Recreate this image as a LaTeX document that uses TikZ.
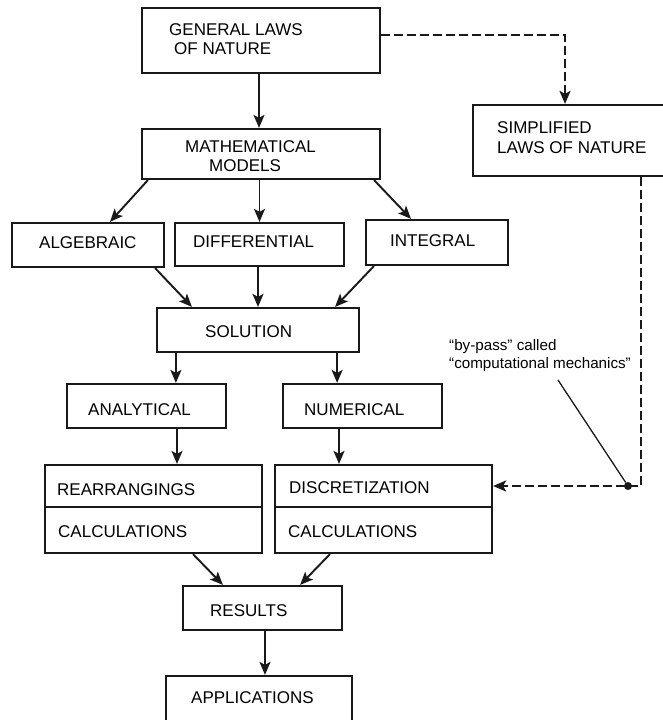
\documentclass[tikz,border=0pt]{standalone}
\usepackage{fontspec}
\setmainfont{Liberation Sans}
\usetikzlibrary{arrows.meta}
\tikzset{
  box/.style={draw=black!90, line width=2.2pt, inner sep=0pt, rectangle},
  txt/.style={inner sep=0pt, anchor=base west, font=\fontsize{17}{20}\selectfont},
  note/.style={inner sep=0pt, anchor=base west, font=\fontsize{15.2}{18}\selectfont},
  arr/.style={line width=1.9pt, draw=black!90, -{Stealth[length=13pt,width=11pt,inset=3pt]}},
  darr/.style={arr, dash pattern=on 9pt off 4pt, line width=2.4pt}
}
\begin{document}
\begin{tikzpicture}[x=1pt,y=-1pt]
\useasboundingbox (0,0) rectangle (663,720);
% boxes
\node[box, minimum width=238pt, minimum height=65pt] (gen) at (261,40.5) {};
\node[box, minimum width=238pt, minimum height=50pt] (math) at (261,154) {};
\node[box, minimum width=217pt, minimum height=71pt] (simp) at (581.5,140.5) {};
\node[box, minimum width=152pt, minimum height=44pt] (alg) at (88,245) {};
\node[box, minimum width=169pt, minimum height=43pt] (diff) at (259.5,244.5) {};
\node[box, minimum width=142pt, minimum height=45pt] (integ) at (437,242.5) {};
\node[box, minimum width=202pt, minimum height=44pt] (sol) at (258,330) {};
\node[box, minimum width=159pt, minimum height=44pt] (ana) at (146.5,406) {};
\node[box, minimum width=159pt, minimum height=44pt] (num) at (362.5,406) {};
\node[box, minimum width=217pt, minimum height=42pt] (reaL) at (153.5,486) {};
\node[box, minimum width=217pt, minimum height=46pt] (calL) at (153.5,530) {};
\node[box, minimum width=217pt, minimum height=42pt] (disR) at (383.5,486) {};
\node[box, minimum width=217pt, minimum height=46pt] (calR) at (383.5,530) {};
\node[box, minimum width=159pt, minimum height=44pt] (res) at (262.5,608) {};
\node[box, minimum width=186pt, minimum height=64pt] (app) at (259,708) {};
% texts
\node[txt] (t1) at (169,35) {GENERAL LAWS};
\node[txt] (t2) at (174,54) {OF NATURE};
\node[txt] (t3) at (185,152) {MATHEMATICAL};
\node[txt] (t4) at (209,171) {MODELS};
\node[txt] (t5) at (497,133) {SIMPLIFIED};
\node[txt] (t6) at (497,153) {LAWS OF NATURE};
\node[txt] (t7) at (39,248) {ALGEBRAIC};
\node[txt] (t8) at (193,247) {DIFFERENTIAL};
\node[txt] (t9) at (390,246) {INTEGRAL};
\node[txt] (t10) at (205,337) {SOLUTION};
\node[txt] (t11) at (88,415) {ANALYTICAL};
\node[txt] (t12) at (304,415) {NUMERICAL};
\node[txt] (t13) at (57,495) {REARRANGINGS};
\node[txt] (t14) at (58,537) {CALCULATIONS};
\node[txt] (t15) at (289,493) {DISCRETIZATION};
\node[txt] (t16) at (288,537) {CALCULATIONS};
\node[txt] (t17) at (210,616) {RESULTS};
\node[txt] (t18) at (191,703) {APPLICATIONS};
\node[note] (n1) at (449,350) {“by-pass” called};
\node[note] (n2) at (449,368) {“computational mechanics”};
% arrows
\draw[arr] ([xshift=-2pt]gen.south) -- ([xshift=-2pt]math.north);
\draw[arr] ([xshift=7pt]math.south west) -- ([xshift=22pt]alg.north);
\draw[arr] (diff.north |- math.south) -- (diff.north);
\draw[arr] ([xshift=-7pt]math.south east) -- ([xshift=-26pt]integ.north);
\draw[arr] ([xshift=-10pt]alg.south east) -- ([xshift=36pt]sol.north west);
\draw[arr] (sol.north |- diff.south) -- (sol.north);
\draw[arr] ([xshift=9pt]integ.south west) -- ([xshift=-25pt]sol.north east);
\draw[arr] ([xshift=20pt]sol.south west) coordinate (s1) -- (s1 |- ana.north);
\draw[arr] ([xshift=-23pt]sol.south east) coordinate (s2) -- (s2 |- num.north);
\draw[arr] ([xshift=30.5pt]ana.south) coordinate (a1) -- (a1 |- reaL.north);
\draw[arr] ([xshift=-23.5pt]num.south) coordinate (n3) -- (n3 |- disR.north);
\draw[arr] ([xshift=39.5pt]calL.south) -- ([xshift=41pt]res.north west);
\draw[arr] ([xshift=-53.5pt]calR.south) -- ([xshift=-43pt]res.north east);
\draw[arr] ([xshift=2.5pt]res.south) coordinate (r1) -- (r1 |- app.north);
% dashed by-pass
\draw[darr] ([yshift=5.5pt]gen.east) -| ([xshift=-16.5pt]simp.north);
\draw[darr] ([xshift=59.5pt]simp.south) |- (disR.east);
\node[circle, fill=black!90, inner sep=0pt, minimum size=8pt] (dot) at (628,486) {};
\coordinate (lblpt) at (558,380);
\draw[line width=1.3pt, draw=black!90] (lblpt) -- (dot);
\end{tikzpicture}
\end{document}
